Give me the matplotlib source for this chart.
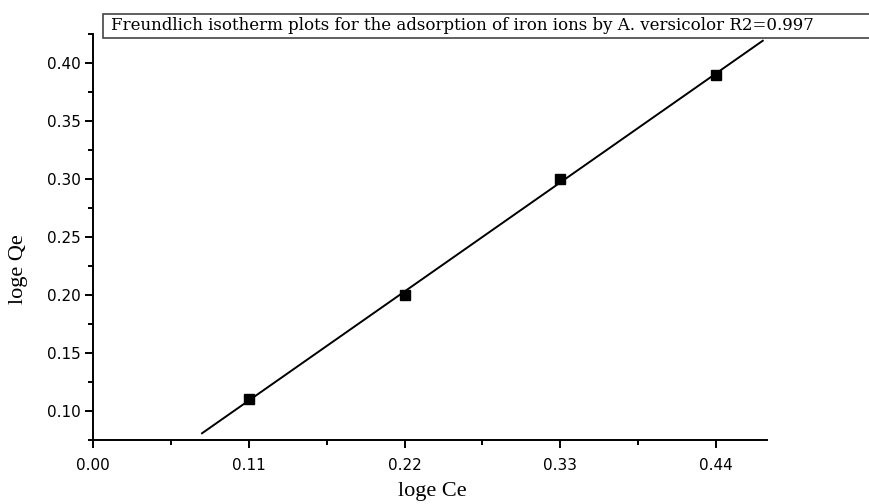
import numpy as np
import matplotlib
matplotlib.use('Agg')
import matplotlib.pyplot as plt
from matplotlib.patches import Rectangle
from matplotlib.ticker import MultipleLocator

# 数据 (loge Ce, loge Qe)
log_ce = [0.11, 0.22, 0.33, 0.44]
log_qe = [0.11, 0.20, 0.30, 0.39]
fit_range = [0.077, 0.473]  # 拟合直线的 x 范围
x_ticks = [0.00, 0.11, 0.22, 0.33, 0.44]
y_ticks = [0.10, 0.15, 0.20, 0.25, 0.30, 0.35, 0.40]
title = 'Freundlich isotherm plots for the adsorption of iron ions by A. versicolor R2=0.997'

fig = plt.figure(figsize=(8.7, 5.04), dpi=100)
ax = fig.add_axes([93 / 870, 1 - 440 / 504, (767 - 93) / 870, (440 - 34) / 504])

# 线性拟合
slope, intercept = np.polyfit(log_ce, log_qe, 1)
xf = np.array(fit_range)
ax.plot(xf, slope * xf + intercept, color='black', linewidth=1.4)
ax.plot(log_ce, log_qe, linestyle='none', marker='s', markersize=7.5, color='black')

ax.set_xlim(0, 0.476)
ax.set_ylim(0.075, 0.425)
ax.set_xticks(x_ticks)
ax.set_xticklabels([f'{v:.2f}' for v in x_ticks])
ax.xaxis.set_minor_locator(MultipleLocator(0.055))
ax.set_yticks(y_ticks)
ax.set_yticklabels([f'{v:.2f}' for v in y_ticks])
ax.yaxis.set_minor_locator(MultipleLocator(0.025))

for side in ['top', 'right']:
    ax.spines[side].set_visible(False)
for side in ['left', 'bottom']:
    ax.spines[side].set_linewidth(1.4)
ax.tick_params(which='major', direction='out', length=6, width=1.4)
ax.tick_params(which='minor', direction='out', length=3.8, width=1.4)
ax.tick_params(axis='x', which='major', pad=7)
ax.tick_params(axis='y', which='major', pad=3)
for lab in ax.get_xticklabels() + ax.get_yticklabels():
    lab.set_family('DejaVu Sans')
    lab.set_fontsize(11)

ax.set_xlabel('loge Ce', family='Liberation Serif', fontsize=16)
ax.set_ylabel('loge Qe', family='Liberation Serif', fontsize=16)
ax.xaxis.set_label_coords(0.504, -0.103)
ax.yaxis.set_label_coords(-0.097, 0.42)

# 标题框
box = Rectangle((103 / 870, 1 - 38 / 504), 1.0, 24 / 504, transform=fig.transFigure,
                facecolor='white', edgecolor='#444444', linewidth=1.2)
fig.patches.append(box)
fig.text(111 / 870, 1 - 26 / 504, title, family='DejaVu Serif', fontsize=12,
         va='center', ha='left')

fig.savefig('out.png', dpi=100)
